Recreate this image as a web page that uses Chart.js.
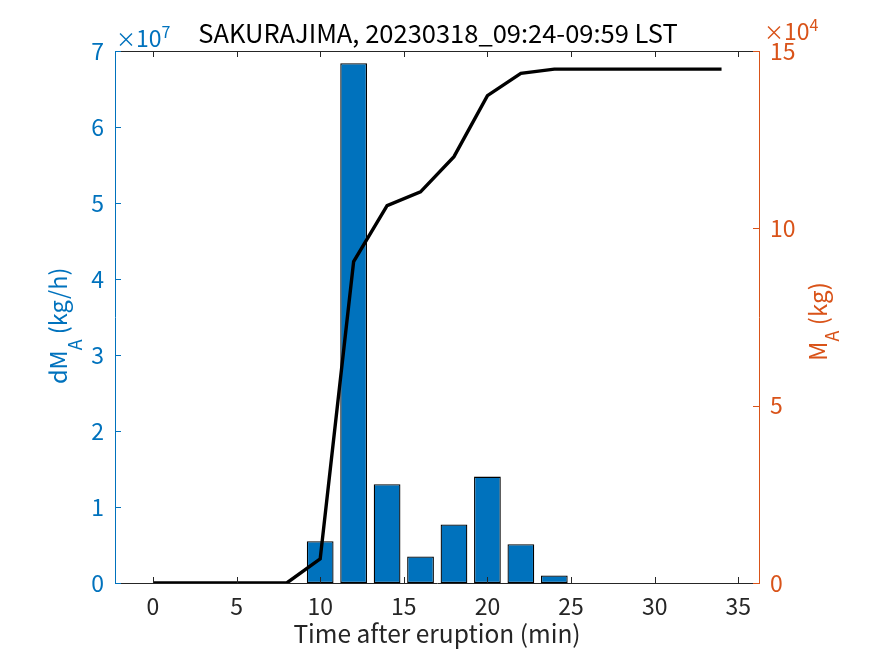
<!DOCTYPE html>
<html><head><meta charset="utf-8">
<script src="https://cdn.jsdelivr.net/npm/chart.js@4.4.1/dist/chart.umd.min.js"></script>
<style>html,body{margin:0;padding:0;background:#fff;}</style>
</head><body>
<canvas id="c" width="875" height="656"></canvas>
<script>
// ---- data ----
const timeMin = [0,2,4,6,8,10,12,14,16,18,20,22,24,26,28,30,32,34];
const massCum = [0,0,0,0,0,6800,90600,106400,110300,120200,137400,143700,144900,144900,144900,144900,144900,144900];
const barTime = [10,12,14,16,18,20,22,24];
const barRate = [5.5e6,6.84e7,1.30e7,0.35e7,0.77e7,1.40e7,0.51e7,0.10e7];
const xTicks = [0,5,10,15,20,25,30,35];
const leftTicks = [0,1,2,3,4,5,6,7];      // x10^7
const rightTicks = [0,5,10,15];           // x10^4
const titleText = 'SAKURAJIMA, 20230318_09:24-09:59 LST';
const xTitle = 'Time after eruption (min)';

const BLUE = '#0072BD', ORANGE = '#D95319', DARK = '#262626';
const FONT = '"Noto Sans CJK JP", "Noto Sans", sans-serif';
const TICK_SIZE = 23;

function line(ctx,x1,y1,x2,y2){ctx.beginPath();ctx.moveTo(x1,y1);ctx.lineTo(x2,y2);ctx.stroke();}

function drawSubText(ctx, parts, x, y, color){
  let cx = x;
  ctx.fillStyle = color;
  ctx.textBaseline = 'alphabetic';
  ctx.textAlign = 'left';
  parts.forEach(p=>{
    ctx.font = p[1]+'px '+FONT;
    ctx.fillText(p[0], cx, y + p[2]);
    cx += ctx.measureText(p[0]).width;
  });
}

const deco = {
  id:'deco',
  afterDraw(chart){
    const {ctx, chartArea:a, scales} = chart;
    ctx.save();
    ctx.lineWidth = 1;
    ctx.strokeStyle = DARK;
    line(ctx, a.left, a.top+0.5, a.right, a.top+0.5);
    xTicks.forEach(v=>{
      const px = Math.round(scales.x.getPixelForValue(v))+0.5;
      line(ctx, px, a.bottom, px, a.bottom-6);
      line(ctx, px, a.top, px, a.top+6);
    });
    ctx.strokeStyle = BLUE;
    leftTicks.forEach(v=>{
      const py = Math.round(scales.y.getPixelForValue(v*1e7))+0.5;
      line(ctx, a.left, py, a.left+6, py);
    });
    ctx.strokeStyle = ORANGE;
    rightTicks.forEach(v=>{
      const py = Math.round(scales.y2.getPixelForValue(v*1e4))+0.5;
      line(ctx, a.right, py, a.right-6, py);
    });
    // title
    ctx.fillStyle = '#000';
    ctx.font = '25.5px '+FONT;
    ctx.textAlign = 'center';
    ctx.textBaseline = 'alphabetic';
    ctx.fillText(titleText, (a.left+a.right)/2 + 1, 43);
    // exponent labels
    drawSubText(ctx, [['\u00D7',20,0],['10',23,0],['7',16,-9]], a.left+1, 47, BLUE);
    drawSubText(ctx, [['\u00D7',20,0],['10',23,0],['4',16,-9]], a.right+5, 40, ORANGE);
    // left y title
    ctx.save();
    ctx.translate(67, 384);
    ctx.rotate(-Math.PI/2);
    drawSubText(ctx, [['dM',23.5,0],['A',18,15],[' (kg/h)',23.5,0]], 0, 0, BLUE);
    ctx.restore();
    // right y title
    ctx.save();
    ctx.translate(827, 361);
    ctx.rotate(-Math.PI/2);
    drawSubText(ctx, [['M',24,0],['A',18,12],[' (kg)',24,0]], 0, 0, ORANGE);
    ctx.restore();
    ctx.restore();
  }
};

const ctx = document.getElementById('c').getContext('2d');
new Chart(ctx, {
  type: 'bar',
  data: {
    datasets: [
      {
        type: 'line',
        label: 'M_A',
        data: timeMin.map((t,i)=>({x:t, y:massCum[i]})),
        yAxisID: 'y2',
        borderColor: '#000',
        borderWidth: 3.4,
        pointRadius: 0,
        tension: 0,
        fill: false,
        order: 0
      },
      {
        type: 'bar',
        label: 'dM_A',
        data: barTime.map((t,i)=>({x:t, y:barRate[i]})),
        yAxisID: 'y',
        backgroundColor: BLUE,
        borderColor: '#000',
        borderWidth: 1.3,
        borderSkipped: false,
        barPercentage: 0.8,
        categoryPercentage: 1.0,
        order: 1
      }
    ]
  },
  options: {
    responsive: false,
    animation: false,
    devicePixelRatio: 1,
    layout: {padding: {top: 51, left: 0, right: 0, bottom: 0}},
    plugins: {legend: {display:false}, tooltip: {enabled:false}, title: {display:false}},
    scales: {
      x: {
        type: 'linear', position: 'bottom', offset: false,
        min: -2.27, max: 36.24,
        grid: {display:false, drawTicks:false},
        border: {display:true, color: DARK, width: 1},
        afterBuildTicks: s => { s.ticks = xTicks.map(v=>({value:v})); },
        afterFit: s => { s.height = 73; },
        ticks: {color: DARK, font: {family: FONT, size: TICK_SIZE}, padding: 9, maxRotation: 0, autoSkip: false,
          callback: v => String(v)},
        title: {display: true, text: xTitle, color: DARK, font: {family: FONT, size: 24.5}, padding: {top: 0, bottom: 8}}
      },
      y: {
        type: 'linear', position: 'left', min: 0, max: 7e7,
        grid: {display:false, drawTicks:false},
        border: {display:true, color: BLUE, width: 1},
        afterBuildTicks: s => { s.ticks = leftTicks.map(v=>({value:v*1e7})); },
        afterFit: s => { s.width = 115; },
        ticks: {color: BLUE, font: {family: FONT, size: TICK_SIZE}, padding: 11, autoSkip: false,
          callback: v => String(Math.round(v/1e7))}
      },
      y2: {
        type: 'linear', position: 'right', min: 0, max: 15e4,
        grid: {display:false, drawTicks:false},
        border: {display:true, color: ORANGE, width: 1},
        afterBuildTicks: s => { s.ticks = rightTicks.map(v=>({value:v*1e4})); },
        afterFit: s => { s.width = 116; },
        ticks: {color: ORANGE, font: {family: FONT, size: TICK_SIZE}, padding: 11, autoSkip: false,
          callback: v => String(Math.round(v/1e4))}
      }
    }
  },
  plugins: [deco]
});
</script>
</body></html>
